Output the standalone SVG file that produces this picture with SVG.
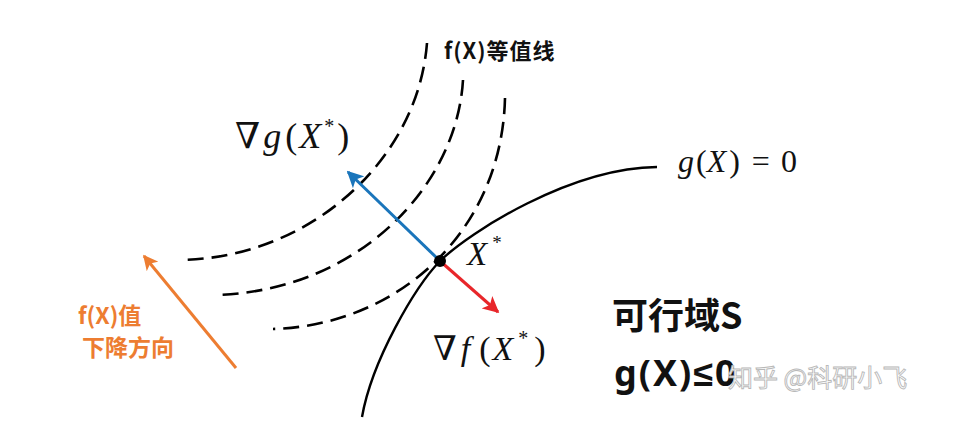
<svg xmlns="http://www.w3.org/2000/svg" width="961" height="427" viewBox="0 0 961 427">
<style>
.dash{fill:none;stroke:#000;stroke-width:2.6;stroke-dasharray:16 8}
.solid{fill:none;stroke:#000;stroke-width:2.4}
.math{font-family:"Liberation Serif","DejaVu Serif",serif;fill:#111}
.it{font-style:italic}
.cjk{font-family:"Noto Sans CJK SC","Liberation Sans",sans-serif;font-weight:bold}
.wm{font-family:"Noto Sans CJK SC",sans-serif;font-size:25px;fill:#fff;stroke:#b8b8b8;stroke-width:0.9}
</style>
<defs>
<marker id="ab" viewBox="0 0 10 10" refX="9" refY="5" markerWidth="5.5" markerHeight="5.5" orient="auto" markerUnits="strokeWidth"><path d="M0,0 L10,5 L0,10 L2.5,5 z" fill="#1a75bb"/></marker>
<marker id="ar" viewBox="0 0 10 10" refX="9" refY="5" markerWidth="5.5" markerHeight="5.5" orient="auto" markerUnits="strokeWidth"><path d="M0,0 L10,5 L0,10 L2.5,5 z" fill="#e8262a"/></marker>
<marker id="ao" viewBox="0 0 10 10" refX="9" refY="5" markerWidth="5" markerHeight="5" orient="auto" markerUnits="strokeWidth"><path d="M0,0 L10,5 L0,10 L2.5,5 z" fill="#ed7d31"/></marker>
</defs>
<rect width="961" height="427" fill="#fff"/>
<g id="contours">
<path class="dash" d="M427,43 C418,160 310,258 180,260"/>
<path class="dash" d="M463,80 C457,185 360,290 217,295"/>
<path class="dash" d="M505,98 C502,230 400,325 273,329"/>
</g>
<g id="constraint">
<path class="solid" d="M362,417 C372,360 415,287 440,261 C470,232 570,168 657,167"/>
</g>
<g id="connectors">
<line x1="440" y1="261" x2="348" y2="172" stroke="#1a75bb" stroke-width="3" marker-end="url(#ab)"/>
<line x1="440" y1="261" x2="498" y2="312" stroke="#e8262a" stroke-width="3" marker-end="url(#ar)"/>
<line x1="236" y1="368" x2="144" y2="256" stroke="#ed7d31" stroke-width="3" marker-end="url(#ao)"/>
</g>
<g id="xstar">
<circle cx="440" cy="261" r="6" fill="#000"/>
<text class="math" x="467" y="265" font-size="33"><tspan class="it">X</tspan><tspan font-size="19" dy="-16" dx="5">*</tspan></text>
</g>
<g id="label-gradg">
<text class="math" x="235" y="148" font-size="36" letter-spacing="2">∇<tspan class="it" dx="1">g</tspan><tspan dx="2">(</tspan><tspan class="it">X</tspan><tspan font-size="20" dy="-15" dx="1">*</tspan><tspan dy="15" dx="1">)</tspan></text>
</g>
<g id="label-gradf">
<text class="math" x="433" y="360" font-size="34" letter-spacing="2">∇<tspan class="it" dx="2">f</tspan><tspan dx="7">(</tspan><tspan class="it">X</tspan><tspan font-size="20" dy="-15" dx="3">*</tspan><tspan dy="15" dx="4">)</tspan></text>
</g>
<g id="label-g0">
<text class="math" x="678" y="172" font-size="32"><tspan class="it">g</tspan><tspan dx="2">(</tspan><tspan class="it">X</tspan><tspan dx="3">)</tspan><tspan dx="12">=</tspan><tspan dx="11">0</tspan></text>
</g>
<g id="label-contours">
<text class="cjk" x="444" y="59" font-size="22" letter-spacing="1" fill="#111">f(X)等值线</text>
</g>
<g id="label-descent">
<text class="cjk" x="78" y="324" font-size="23" fill="#ed7d31">f(X)值</text>
<text class="cjk" x="82" y="356" font-size="23" fill="#ed7d31">下降方向</text>
</g>
<g id="label-feasible">
<text class="cjk" x="612" y="329" font-size="36" fill="#111">可行域S</text>
<text x="614" y="386" font-size="36" letter-spacing="2" fill="#111" style="font-family:'Noto Sans','Liberation Sans',sans-serif;font-weight:bold">g(X)≤0</text>
</g>
<g id="watermark">
<text class="wm" x="728" y="387">知乎 @科研小飞</text>
</g>
</svg>
